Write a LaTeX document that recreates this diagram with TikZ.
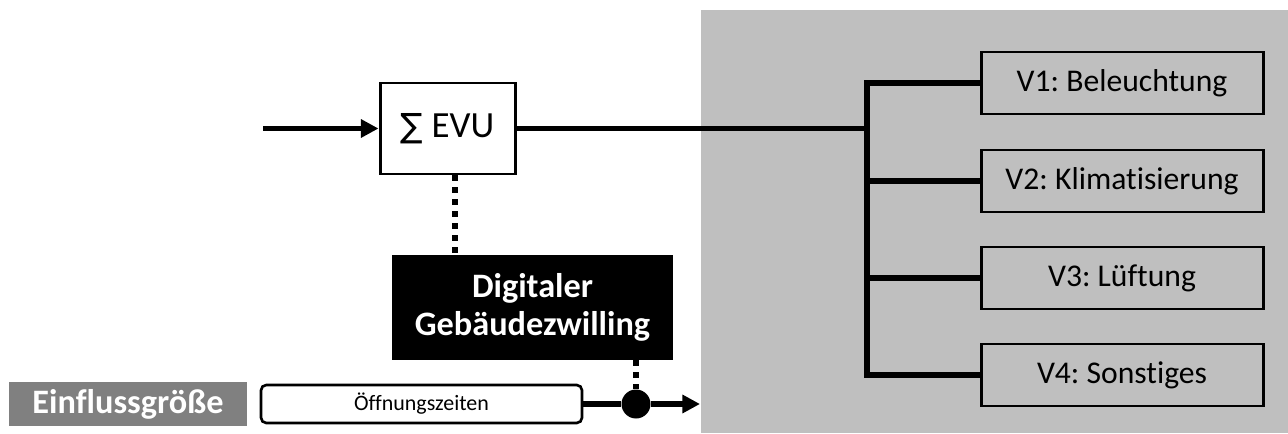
\documentclass[tikz,border=0pt]{standalone}
\usepackage{fontspec}
\setmainfont{Carlito}[Ligatures=NoCommon]
\newfontfamily\sumfont{DejaVu Sans}
\usetikzlibrary{arrows.meta,positioning}
\definecolor{bg}{HTML}{BFBFBF}
\definecolor{tag}{HTML}{808080}
\frenchspacing

\tikzset{
	flow/.style={line width=3.4pt},
	dots/.style={line width=3.4pt, dash pattern=on 3.4pt off 3.4pt},
	tip/.style={-{Triangle[length=10pt,width=10pt]}},
	vbox/.style={draw, line width=1.7pt, minimum width=5.64cm, minimum height=1.24cm, font=\fontsize{18}{21}\selectfont},
}

\begin{document}
\begin{tikzpicture}
		
		\useasboundingbox (0,0) rectangle (25.76,8.66);
		
		% grey area of the consumers
		\fill[bg] (14.02,0) rectangle (25.76,8.46);
		
		\node[draw, line width=1.7pt, fill=white, minimum width=2.7cm, minimum height=1.82cm, font=\fontsize{21}{24}\selectfont] (evu) at (8.95,6.09) {{\sumfont\fontsize{19}{24}\selectfont ∑} EVU};
		\coordinate (in) at (5.26,6.09);
		\coordinate (bus) at (17.34,6.09);
		
		\node[vbox] (v1) at (22.44,7.0) {V1: Beleuchtung};
		\node[vbox] (v2) at (22.44,5.04) {V2: Klimatisierung};
		\node[vbox] (v3) at (22.44,3.1) {V3: Lüftung};
		\node[vbox] (v4) at (22.44,1.16) {V4: Sonstiges};
		
		\node[fill=black, text=white, minimum width=5.62cm, minimum height=2.1cm, align=center, font=\bfseries\fontsize{19.5}{21.5}\selectfont] (twin) at (10.65,2.51) {Digitaler\\Gebäudezwilling};
		
		\node[draw, line width=1.5pt, rounded corners=3pt, minimum width=6.42cm, minimum height=0.76cm, font=\fontsize{12.5}{14}\selectfont] (oeff) at (8.43,0.58) {Öffnungszeiten};
		\node[fill=tag, text=white, minimum width=4.76cm, minimum height=0.88cm, font=\bfseries\fontsize{19.5}{22}\selectfont] (einfluss) at (2.56,0.58) {Einflussgröße};
		
		\node[circle, fill=black, inner sep=0pt, minimum size=0.58cm] (dot) at (12.72,0.58) {};
		\coordinate (out) at (14.0,0.58);
		
		% main line and bus
		\draw[flow, tip] (in) -- (evu);
		\draw[flow] (evu) -- (bus);
		\draw[flow, line cap=rect] (bus |- v1) -- (bus |- v4);
		\foreach \v in {v1,v2,v3,v4}
			\draw[flow] (bus |- \v) -- (\v.west);
		
		% digital twin links
		\draw[dots] ([xshift=0.15cm]evu.south) -- ([xshift=0.15cm]evu.south |- twin.north);
		\draw[dots] (dot |- twin.south) -- (dot);
		\draw[flow] (oeff) -- (dot);
		\draw[flow, tip] (dot) -- (out);
		
\end{tikzpicture}
\end{document}
